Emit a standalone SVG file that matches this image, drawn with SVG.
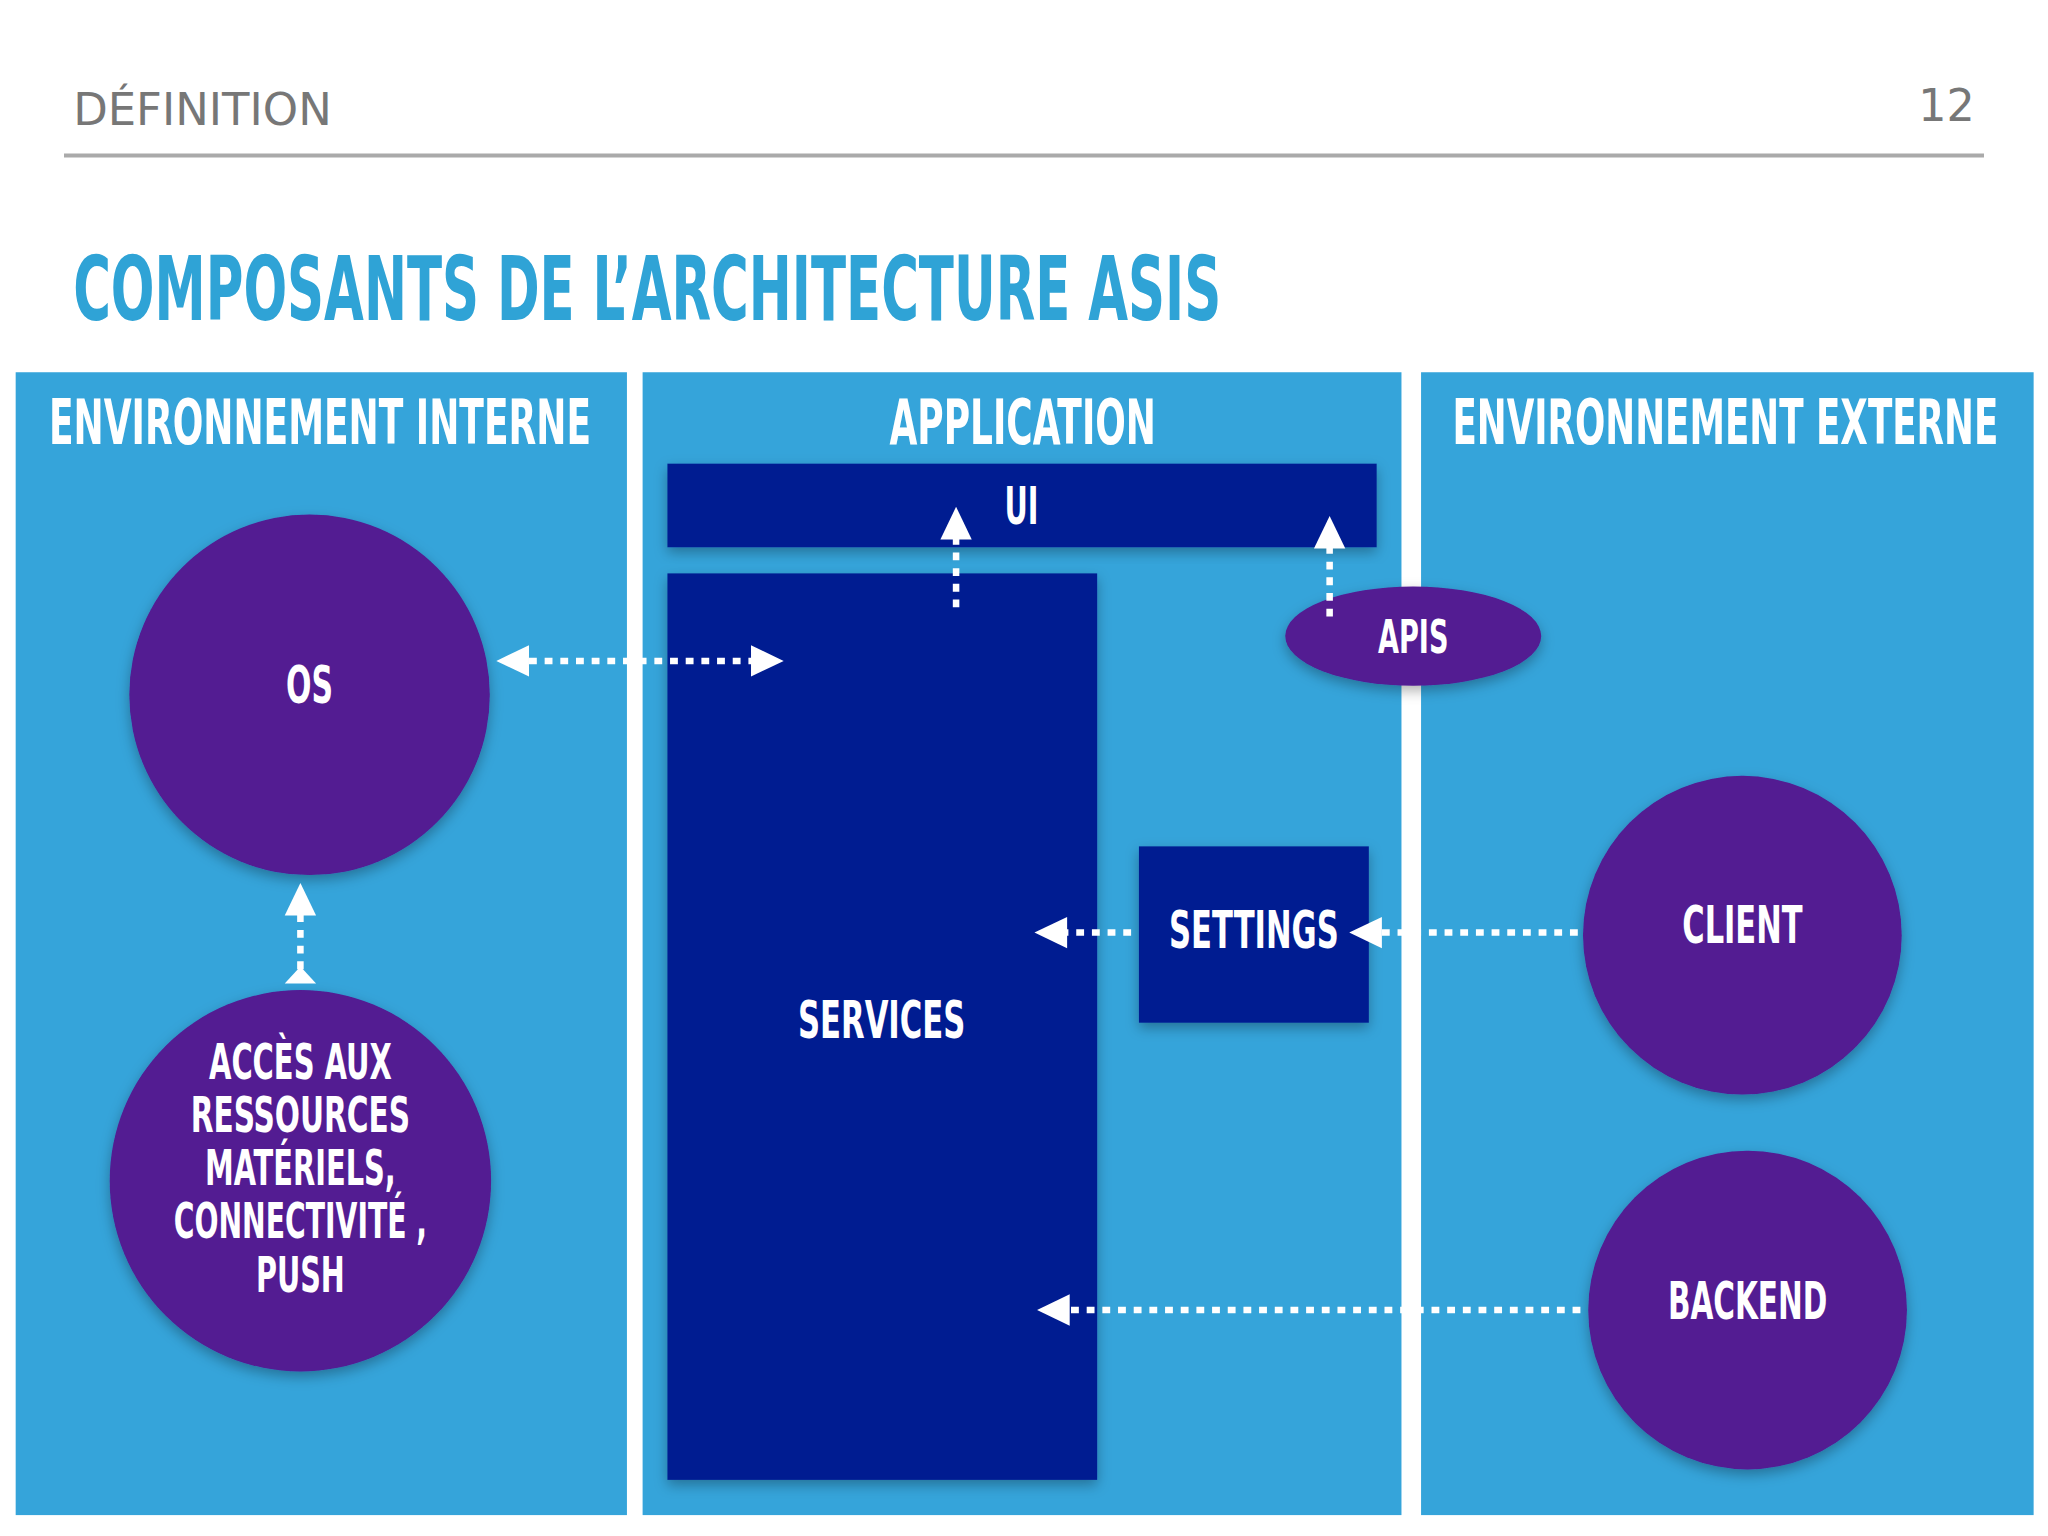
<svg xmlns="http://www.w3.org/2000/svg" width="2048" height="1536" viewBox="0 0 2048 1536">
<style>
.t{font-family:"DejaVu Sans Condensed","Liberation Sans",sans-serif;fill:#fff;text-anchor:middle;font-weight:bold}
.p{fill:#35a4da}
.d{fill:#031a91;filter:url(#sh)}
.c{fill:#521b92;filter:url(#sh)}
.a{stroke:#fff;stroke-width:5;stroke-dasharray:6 6;fill:none}
.h{fill:#fff}
</style>
<defs><filter id="sh" x="-20%" y="-20%" width="140%" height="140%"><feDropShadow dx="0" dy="4" stdDeviation="5" flood-color="#000" flood-opacity="0.3"/></filter></defs>
<rect width="2048" height="1536" fill="#fff"/>
<g transform="scale(1.30612)">
<text x="56" y="96" font-family="DejaVu Sans,sans-serif" font-size="34" fill="#777" textLength="198" lengthAdjust="spacingAndGlyphs">DÉFINITION</text>
<text x="1512" y="93" font-family="DejaVu Sans,sans-serif" font-size="34" fill="#777" text-anchor="end">12</text>
<line x1="49" y1="119" x2="1519" y2="119" stroke="#aaa" stroke-width="3"/>
<text x="56" y="245" font-family="DejaVu Sans Condensed,sans-serif" font-weight="bold" font-size="68" fill="#2fa3d6" textLength="879" lengthAdjust="spacingAndGlyphs">COMPOSANTS DE L’ARCHITECTURE ASIS</text>
<g id="interne"><rect class="p" x="12" y="285" width="468" height="875"/><text class="t" x="245" y="340" font-size="48" textLength="415" lengthAdjust="spacingAndGlyphs">ENVIRONNEMENT INTERNE</text></g>
<g id="application"><rect class="p" x="492" y="285" width="581" height="875"/><text class="t" x="783" y="340" font-size="48" textLength="204" lengthAdjust="spacingAndGlyphs">APPLICATION</text></g>
<g id="externe"><rect class="p" x="1088" y="285" width="469" height="875"/><text class="t" x="1321" y="340" font-size="48" textLength="418" lengthAdjust="spacingAndGlyphs">ENVIRONNEMENT EXTERNE</text></g>
<g id="ui"><rect class="d" x="511" y="355" width="543" height="64"/><text class="t" x="782" y="401" font-size="40" textLength="26" lengthAdjust="spacingAndGlyphs">UI</text></g>
<g id="services"><rect class="d" x="511" y="439" width="329" height="694"/><text class="t" x="675" y="795" font-size="40" textLength="128" lengthAdjust="spacingAndGlyphs">SERVICES</text></g>
<g id="settings"><rect class="d" x="872" y="648" width="176" height="135"/><text class="t" x="960" y="726" font-size="40" textLength="130" lengthAdjust="spacingAndGlyphs">SETTINGS</text></g>
<g id="os"><circle class="c" cx="237" cy="532" r="138"/><text class="t" x="237" y="538" font-size="40" textLength="36" lengthAdjust="spacingAndGlyphs">OS</text></g>
<g id="acces"><circle class="c" cx="230" cy="904" r="146"/>
<text class="t" x="230" y="826" font-size="38" textLength="140" lengthAdjust="spacingAndGlyphs">ACCÈS AUX</text>
<text class="t" x="230" y="867" font-size="38" textLength="168" lengthAdjust="spacingAndGlyphs">RESSOURCES</text>
<text class="t" x="230" y="907" font-size="38" textLength="146" lengthAdjust="spacingAndGlyphs">MATÉRIELS,</text>
<text class="t" x="230" y="948" font-size="38" textLength="194" lengthAdjust="spacingAndGlyphs">CONNECTIVITÉ ,</text>
<text class="t" x="230" y="989" font-size="38" textLength="68" lengthAdjust="spacingAndGlyphs">PUSH</text></g>
<g id="apis"><ellipse class="c" cx="1082" cy="487" rx="98" ry="38"/><text class="t" x="1082" y="500" font-size="36" textLength="54" lengthAdjust="spacingAndGlyphs">APIS</text></g>
<g id="client"><circle class="c" cx="1334" cy="716" r="122"/><text class="t" x="1334" y="722" font-size="40" textLength="92" lengthAdjust="spacingAndGlyphs">CLIENT</text></g>
<g id="backend"><circle class="c" cx="1338" cy="1003" r="122"/><text class="t" x="1338" y="1010" font-size="40" textLength="122" lengthAdjust="spacingAndGlyphs">BACKEND</text></g>
<g id="connectors">
<line class="a" x1="405" y1="506" x2="576" y2="506"/><polygon class="h" points="380,506 405,494 405,518"/><polygon class="h" points="600,506 575,494 575,518"/>
<line class="a" x1="732" y1="465" x2="732" y2="412"/><polygon class="h" points="732,388 720,413 744,413"/>
<line class="a" x1="1018" y1="472" x2="1018" y2="419"/><polygon class="h" points="1018,395 1006,420 1030,420"/>
<line class="a" x1="230" y1="742" x2="230" y2="700"/><polygon class="h" points="230,676 218,701 242,701"/><polygon class="h" points="230,740 218,753 242,753"/>
<line class="a" x1="866" y1="714" x2="816" y2="714"/><polygon class="h" points="792,714 817,702 817,726"/>
<line class="a" x1="1208" y1="714" x2="1057" y2="714"/><polygon class="h" points="1033,714 1058,702 1058,726"/>
<line class="a" x1="1210" y1="1003" x2="818" y2="1003"/><polygon class="h" points="794,1003 819,991 819,1015"/>
</g>
</g>
</svg>
